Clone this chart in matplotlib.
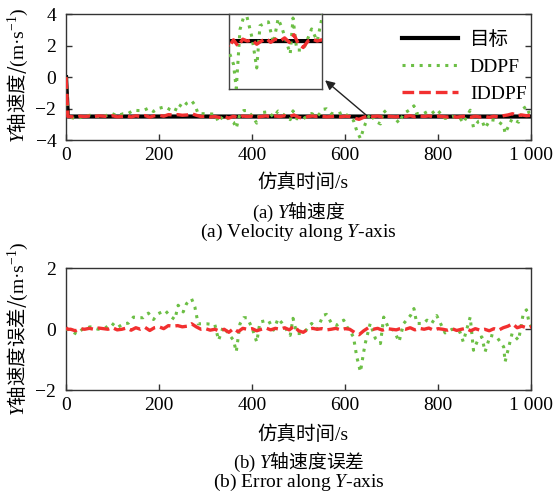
import numpy as np
import matplotlib
matplotlib.use('Agg')
import matplotlib.pyplot as plt

plt.rcParams['font.family'] = ['Liberation Serif', 'Noto Sans CJK SC']
plt.rcParams['mathtext.fontset'] = 'custom'
plt.rcParams['mathtext.rm'] = 'Liberation Serif'
plt.rcParams['mathtext.it'] = 'Liberation Serif:italic'
plt.rcParams['axes.unicode_minus'] = True

# target velocity (m/s)
target_t = [0, 4, 1000]
target_v = [0.0, -2.5, -2.5]
v_level = -2.5

# DDPF velocity error
ddpf_t = [0, 4, 10, 23, 35, 52, 69, 85, 98, 110, 123, 134, 145, 155, 166, 177, 188, 198,
          213, 224, 234, 241, 252, 259, 270, 277, 284, 302, 320, 328, 338, 349, 360, 366,
          374, 382, 389, 400, 410, 417, 435, 446, 456, 464, 482, 488, 496, 510, 528, 540,
          553, 560, 571, 582, 597, 604, 618, 625, 633, 640, 644, 654, 665, 676, 683, 694,
          705, 716, 726, 741, 748, 754, 769, 776, 786, 797, 815, 830, 847, 854, 869, 876,
          887, 894, 901, 912, 926, 941, 944, 959, 973, 983, 990, 996, 1000]
ddpf_err = [0.0, 0.0, -0.05, -0.16, 0.0, 0.08, 0.0, 0.05, 0.2, 0.05, 0.18, 0.2, 0.4, 0.38,
            0.38, 0.53, 0.32, 0.51, 0.62, 0.43, 0.32, 0.79, 0.57, 0.84, 1.0, 0.73, 0.18,
            0.18, 0.15, -0.36, 0.08, -0.14, -0.36, -0.74, 0.18, 0.38, 0.38, 0.05, -0.42,
            0.24, 0.3, -0.03, 0.35, 0.21, -0.2, 0.36, -0.14, -0.14, 0.19, 0.0, 0.46, 0.49,
            0.19, 0.13, 0.3, 0.08, -0.25, -0.9, -1.4, -0.74, -0.42, 0.19, -0.3, -0.47, 0.4,
            0.02, -0.03, -0.41, 0.19, 0.46, 0.68, 0.19, 0.19, 0.3, 0.19, 0.45, -0.12, 0.0,
            -0.09, -0.41, 0.4, -0.69, -0.3, -0.25, -0.74, -0.2, -0.25, -0.58, -1.07, -0.14,
            -0.36, 0.51, 0.64, 0.19, 0.1]

# IDDPF velocity error
iddpf_t = [0, 4] + list(range(10, 1001, 10))
iddpf_err = [0.05, 0.0,
             0.0, -0.05, 0.02, 0.0, 0.03, 0.0, 0.04, 0.02, 0.0,
             0.05, -0.02, 0.0, 0.04, -0.03, 0.05, 0.0, 0.06, -0.04, 0.05,
             0.08, 0.02, 0.12, 0.1, 0.12, 0.08, 0.1, 0.18, 0.08, 0.0,
             0.02, -0.03, 0.0, -0.06, 0.0, -0.1, 0.02, -0.08, 0.03, 0.0,
             0.02, -0.05, 0.0, 0.04, -0.02, 0.03, 0.0, 0.05, -0.02, 0.1,
             -0.05, -0.1, 0.0, 0.03, 0.0, 0.02, -0.02, 0.0, 0.03, -0.02,
             0.02, 0.0, -0.1, -0.18, -0.05, 0.05, 0.0, 0.03, -0.03, 0.02,
             0.0, -0.02, 0.03, 0.0, 0.05, -0.02, 0.03, 0.0, 0.04, -0.03,
             0.02, 0.0, -0.03, 0.02, -0.04, 0.0, 0.03, -0.05, 0.02, -0.03,
             0.0, -0.05, 0.02, -0.03, 0.05, 0.1, 0.18, 0.05, 0.1, 0.05, 0.08]

xticks = [0, 200, 400, 600, 800, 1000]
xtick_labels = ['0', '200', '400', '600', '800', '1 000']

green = '#6cbf45'
red = '#f23030'
dots = (0, (1, 1.8))
dashes = (0, (3.5, 1.5))

ddpf_t = np.array(ddpf_t)
ddpf_err = np.array(ddpf_err)
iddpf_t = np.array(iddpf_t)
iddpf_err = np.array(iddpf_err)

# velocity = target + error, starting from rest
ddpf_v = v_level + ddpf_err
ddpf_v[0] = 0.0
iddpf_v = v_level + iddpf_err
iddpf_v[0] = 0.0

fs = 14
cjk = 'Noto Sans CJK SC'

fig = plt.figure(figsize=(5.55, 4.97), dpi=100)
ax1 = fig.add_axes([0.119, 0.718, 0.838, 0.2535])
ax2 = fig.add_axes([0.119, 0.215, 0.838, 0.245])


def style(ax):
    for s in ax.spines.values():
        s.set_color('#333333')
        s.set_linewidth(1.0)
    ax.tick_params(direction='in', length=4, width=1, color='#333333',
                   labelsize=fs, right=True)
    ax.tick_params(axis='y', pad=7)
    ax.tick_params(axis='x', pad=5)
    ax.set_xticks(xticks)
    ax.set_xticklabels(xtick_labels)
    ax.set_xlim(0, 1000)


# upper panel: velocity
ax1.plot(target_t, target_v, color='black', lw=3, label='目标', zorder=2)
ax1.plot(ddpf_t, ddpf_v, color=green, lw=2.2, linestyle=dots, label='DDPF', zorder=3)
ax1.plot(iddpf_t, iddpf_v, color=red, lw=2.4, linestyle=dashes, label='IDDPF', zorder=4)
style(ax1)
ax1.set_ylim(-4, 4)
ax1.set_yticks([-4, -2, 0, 2, 4])
leg = ax1.legend(loc='upper left', frameon=False, fontsize=fs, handlelength=2.9,
                 handletextpad=0.6, labelspacing=0.5, bbox_to_anchor=(0.705, 0.93),
                 borderaxespad=0)

# zoomed inset
axin = ax1.inset_axes([350, -0.76, 200, 4.76], transform=ax1.transData)
axin.plot(target_t, target_v, color='black', lw=3, zorder=2)
axin.plot(ddpf_t, ddpf_v, color=green, lw=2.2, linestyle=dots, zorder=3)
axin.plot(iddpf_t, iddpf_v, color=red, lw=2.4, linestyle=dashes, zorder=4)
axin.set_xlim(350, 550)
axin.set_ylim(-3.25, -2.08)
axin.set_xticks([])
axin.set_yticks([])
for s in axin.spines.values():
    s.set_color('#444444')
    s.set_linewidth(1.0)
ax1.annotate('', xy=(557, -0.2), xytext=(645, -2.4),
             arrowprops=dict(arrowstyle='-|>', color='#222222', lw=1.0,
                             mutation_scale=14, shrinkA=0, shrinkB=0))

# lower panel: error
ax2.plot(ddpf_t, ddpf_err, color=green, lw=2.2, linestyle=dots, zorder=3)
ax2.plot(iddpf_t, iddpf_err, color=red, lw=2.4, linestyle=dashes, zorder=4)
style(ax2)
ax2.set_ylim(-2, 2)
ax2.set_yticks([-2, 0, 2])

# labels and captions
fig.text(0.545, 1 - 183 / 497, '仿真时间/s', fontsize=fs, ha='center', va='center')
fig.text(0.545, 1 - 435 / 497, '仿真时间/s', fontsize=fs, ha='center', va='center')
fig.text(0.032, 1 - 75 / 497, r'$Y$轴速度/$\mathrm{(m·s^{-1})}$', family=cjk,
         fontsize=fs, rotation=90, ha='center', va='center')
fig.text(0.032, 1 - 329 / 497, r'$Y$轴速度误差/$\mathrm{(m·s^{-1})}$', family=cjk,
         fontsize=fs, rotation=90, ha='center', va='center')
fig.text(0.538, 1 - 212 / 497, r'$\mathrm{(a)}\ Y$轴速度', family=cjk,
         fontsize=13.5, ha='center', va='center')
fig.text(0.538, 1 - 232 / 497, r'(a) Velocity along $Y$-axis',
         fontsize=14, ha='center', va='center')
fig.text(0.538, 1 - 462 / 497, r'$\mathrm{(b)}\ Y$轴速度误差', family=cjk,
         fontsize=13.5, ha='center', va='center')
fig.text(0.538, 1 - 482 / 497, r'(b) Error along $Y$-axis',
         fontsize=14, ha='center', va='center')

fig.savefig('out.png', dpi=100)
